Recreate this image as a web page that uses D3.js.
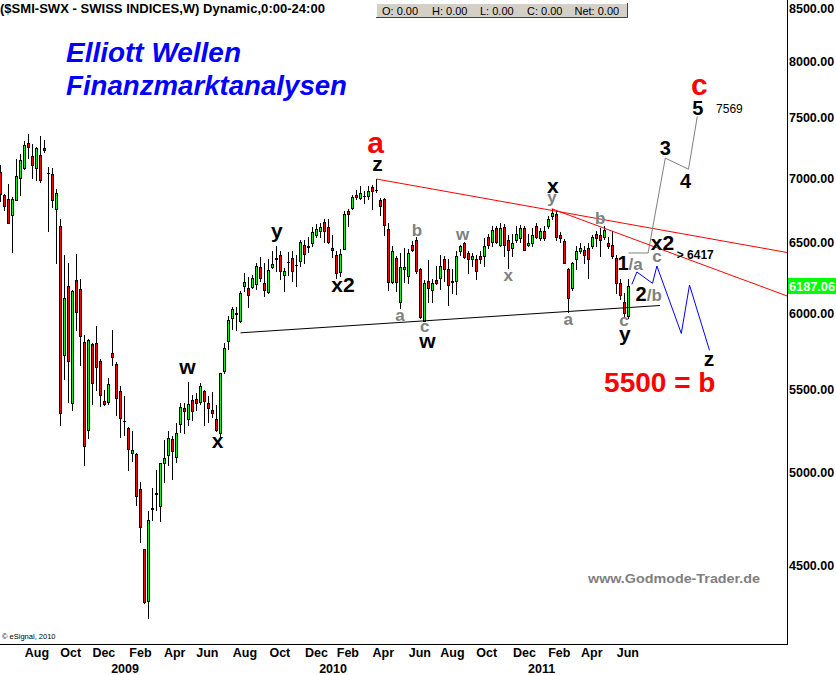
<!DOCTYPE html>
<html><head><meta charset="utf-8">
<script src="https://cdn.jsdelivr.net/npm/d3@7"></script>
<style>
body{margin:0;background:#fff}
svg{display:block}
text{font-family:Arial,"Liberation Sans",sans-serif}
</style>
</head><body>
<svg id="c" width="836" height="675"></svg>
<script>
// ---------------- DATA ----------------
const firstWeekEnd = "2008-06-27";   // date of the first weekly bar
const opens = [7051,6862,6838,6713,6825,6998,7079,7284,7180,7079,7188,7244,7044,7030,6759,6628,5722,6191,5414,6234,
6169,5807,5249,5789,5796,5682,5428,5422,5735,5664,5492,5306,5259,5114,5106,4907,4582,4321,4800,4881,
4812,5057,5102,5194,5092,5288,5382,5319,5434,5441,5418,5488,5412,5371,5318,5230,5616,5811,5965,5993,
5943,6188,6177,6184,6200,6327,6212,6145,6324,6386,6409,6264,6359,6391,6338,6371,6484,6471,6498,6559,
6587,6659,6621,6462,6414,6288,6457,6741,6762,6869,6844,6856,6856,6928,6908,6823,6831,6606,6217,6391,
6074,6307,6259,6486,6523,6312,5949,6224,6159,6229,6248,6379,6307,6224,6224,6438,6498,6426,6379,6379,
6402,6402,6546,6510,6613,6486,6621,6523,6462,6523,6534,6613,6486,6498,6625,6536,6587,6625,6703,6721,
6562,6518,6312,6177,6379,6438,6450,6462,6474,6570,6562,6546,6498,6486,6391,6212,6074,5979];
const highs = [7106,6877,6952,6849,7156,7194,7303,7358,7281,7254,7345,7311,7088,7079,6915,6677,6414,6355,6160,6421,
6241,5849,5822,5801,5912,5691,5494,5570,5888,5673,5520,5459,5269,5245,5112,4949,4585,4784,4912,5014,
5056,5190,5245,5214,5292,5416,5416,5548,5465,5475,5537,5494,5455,5484,5400,5605,5801,5980,6045,6041,
6152,6279,6255,6264,6350,6398,6350,6384,6443,6479,6438,6319,6431,6438,6414,6523,6523,6548,6618,6639,
6652,6677,6682,6556,6438,6457,6741,6754,6862,6902,6938,6895,6933,6946,6992,6844,6844,6652,6479,6402,
6426,6462,6457,6518,6541,6319,6229,6374,6236,6331,6414,6402,6379,6307,6438,6486,6510,6438,6429,6414,
6440,6534,6570,6625,6625,6652,6639,6562,6570,6625,6631,6625,6570,6613,6652,6613,6625,6700,6759,6741,
6580,6530,6319,6362,6480,6498,6480,6498,6562,6587,6613,6625,6546,6587,6414,6236,6141,6240];
const lows = [6815,6746,6646,6431,6823,6869,7075,7161,7002,6985,6967,7215,6592,6772,6352,5278,5566,5419,5371,5888,
5653,5043,5204,5406,5494,5396,5405,5406,5653,5341,5210,5220,5014,5069,4820,4619,4310,4236,4735,4793,
4730,4949,5043,4962,5063,5239,5233,5278,5312,5372,5406,5278,5298,5328,5243,5214,5603,5757,5895,5884,
5940,6152,6041,6177,6169,6224,6116,6141,6319,6295,6236,6152,6264,6224,6188,6331,6355,6434,6479,6548,
6548,6510,6498,6398,6248,6259,6452,6625,6754,6838,6836,6805,6831,6759,6887,6708,6562,6160,6212,6152,
6034,6217,6212,6443,6284,5965,5943,6074,6074,6200,6164,6224,6057,6141,6134,6414,6391,6284,6331,6241,
6350,6331,6462,6474,6498,6474,6402,6319,6402,6510,6510,6445,6474,6474,6534,6523,6523,6613,6677,6523,
6510,6350,6010,6160,6307,6426,6355,6248,6462,6474,6402,6530,6462,6391,6141,6100,5976,5965];
const closes = [6875,6779,6649,6838,7016,7147,7269,7252,7101,7244,6985,7224,7040,6829,6882,5355,6105,5680,6155,6009,
5844,5155,5818,5537,5643,5463,5410,5531,5709,5443,5322,5302,5137,5134,4867,4702,4314,4735,4797,4884,
5053,5082,5200,5125,5234,5392,5363,5410,5363,5416,5520,5429,5384,5351,5249,5601,5768,5953,6027,5997,
6141,6219,6124,6243,6331,6243,6159,6300,6348,6383,6295,6295,6362,6295,6340,6508,6419,6474,6583,6606,
6621,6587,6505,6445,6279,6419,6715,6715,6852,6849,6882,6859,6895,6895,6905,6779,6631,6217,6438,6217,
6327,6327,6426,6450,6295,5976,6212,6177,6207,6212,6331,6307,6195,6220,6407,6474,6395,6379,6402,6295,
6380,6474,6486,6600,6510,6613,6486,6450,6498,6570,6613,6450,6498,6562,6548,6587,6536,6677,6723,6543,
6536,6355,6105,6355,6438,6462,6414,6379,6546,6534,6523,6600,6474,6402,6212,6127,6002,6187.06];

const priceTicks = [4500,5000,5500,6000,6500,7000,7500,8000,8500];
const monthTicks = [["Aug","2008-08-29"],["Oct","2008-10-27"],["Dec","2008-12-24"],["Feb","2009-02-26"],
 ["Apr","2009-04-27"],["Jun","2009-06-23"],["Aug","2009-08-28"],["Oct","2009-10-28"],["Dec","2009-12-31"],
 ["Feb","2010-02-24"],["Apr","2010-04-27"],["Jun","2010-06-30"],["Aug","2010-08-26"],["Oct","2010-10-25"],
 ["Dec","2010-12-30"],["Feb","2011-03-01"],["Apr","2011-04-27"],["Jun","2011-06-29"]];
const yearTicks = [["2009","2009-01-31"],["2010","2010-01-30"],["2011","2011-01-30"]];

// trend lines / projections: [week index, value]
const redUpper = [[94,6992],[196.75,6429]];
const redLower = [[137.8,6759],[196.75,6117]];
const baseLine = [[60,5866],[164.9,6052]];
const grayPath = [[157,6426],[161.9,6426],[166.2,7161],[172,7071],[174.2,7510]];
const bluePath = [[157.85,6200],[159.1,6288],[163,6207],[164.1,6331],[170.2,5862],[172.25,6195],[177.25,5750]];

// wave labels: [text, week index, value, size, colour, anchor, weight]
const waveLabels = [
 ["a",93.8,7202,30,"#ff0000","middle","bold"],
 ["z",94.25,7060,21,"#000","middle","bold"],
 ["y",69.1,6539,21,"#000","middle","bold"],
 ["x2",85.6,6145,21,"#000","middle","bold"],
 ["w",46.75,5599,21,"#000","middle","bold"],
 ["x",54.25,5141,21,"#000","middle","bold"],
 ["b",104.1,6554,17,"#808080","middle","bold"],
 ["a",99.9,5949,17,"#808080","middle","bold"],
 ["c",106.05,5870,17,"#808080","middle","bold"],
 ["w",106.75,5762,21,"#000","middle","bold"],
 ["w",115.55,6523,17,"#808080","middle","bold"],
 ["x",126.95,6224,17,"#808080","middle","bold"],
 ["x",138.1,6885,21,"#000","middle","bold"],
 ["y",137.9,6800,17,"#808080","middle","bold"],
 ["b",149.95,6639,17,"#808080","middle","bold"],
 ["a",141.95,5921,17,"#808080","middle","bold"],
 ["c",155.9,5912,17,"#808080","middle","bold"],
 ["y",156.1,5814,21,"#000","middle","bold"],
 ["1",157,6302,20,"#000","end","bold"],
 ["/a",157,6302,17,"#808080","start","bold"],
 ["2",161.55,6081,20,"#000","end","bold"],
 ["/b",161.55,6081,17,"#808080","start","bold"],
 ["c",164.1,6360,17,"#808080","middle","bold"],
 ["x2",165.5,6446,21,"#000","middle","bold"],
 ["> 6417",169.05,6379,12,"#000","start","bold"],
 ["3",166.2,7188,20,"#000","middle","bold"],
 ["4",171.25,6921,20,"#000","middle","bold"],
 ["5",174.3,7526,20,"#000","middle","bold"],
 ["7569",178.9,7541,12,"#000","start","normal"],
 ["c",174.7,7693,30,"#ff0000","middle","bold"],
 ["z",177.1,5647,21,"#000","middle","bold"],
 ["5500 = b",150.9,5484,28,"#ff0000","start","bold"]
];

// ---------------- CHART ----------------
const svg = d3.select("#c");
const plotR = 787, plotB = 644;
const t0 = d3.utcParse("%Y-%m-%d")(firstWeekEnd);
const wk = k => new Date(+t0 + k*7*864e5);
const parse = d3.utcParse("%Y-%m-%d");
const x = d3.scaleUtc().domain([wk(0), wk(196.75)]).range([0.5, 787.5]);
const y = d3.scaleLog().domain([4500,8500]).range([565,8]);
const X = k => x(wk(k));

svg.append("rect").attr("width",836).attr("height",675).attr("fill","#fff");

svg.append("defs").append("clipPath").attr("id","plot")
  .append("rect").attr("x",0).attr("y",0).attr("width",plotR).attr("height",plotB);

// header
svg.append("text").attr("x",0).attr("y",13).attr("font-size",12.5).attr("font-weight","bold")
  .attr("textLength",325).attr("lengthAdjust","spacingAndGlyphs")
  .text("($SMI-SWX - SWISS INDICES,W) Dynamic,0:00-24:00");

const box = svg.append("g");
box.append("rect").attr("x",376).attr("y",3).attr("width",252).attr("height",15).attr("fill","#d4d0c8");
box.append("path").attr("d","M376.5,18V3.5H628").attr("stroke","#fff").attr("fill","none");
box.append("path").attr("d","M376,17.5H627.5V3").attr("stroke","#404040").attr("fill","none");
[["O: 0.00",382],["H: 0.00",432],["L: 0.00",480],["C: 0.00",527],["Net: 0.00",574.5]].forEach(([t,xx])=>{
  box.append("text").attr("x",xx).attr("y",15).attr("font-size",11).text(t);
});

svg.append("text").attr("x",66).attr("y",62).attr("font-size",27).attr("font-weight","bold")
  .attr("font-style","italic").attr("fill","#0000ff")
  .attr("textLength",175).attr("lengthAdjust","spacingAndGlyphs").text("Elliott Wellen");
svg.append("text").attr("x",66).attr("y",94.5).attr("font-size",27).attr("font-weight","bold")
  .attr("font-style","italic").attr("fill","#0000ff")
  .attr("textLength",281).attr("lengthAdjust","spacingAndGlyphs").text("Finanzmarktanalysen");

svg.append("text").attr("x",588).attr("y",583).attr("font-size",12).attr("font-weight","bold")
  .attr("fill","#808080").attr("textLength",172).attr("lengthAdjust","spacingAndGlyphs")
  .text("www.Godmode-Trader.de");
svg.append("text").attr("x",2).attr("y",639).attr("font-size",7.5).text("\u00a9 eSignal, 2010");

// candles
const plot = svg.append("g").attr("clip-path","url(#plot)").attr("shape-rendering","crispEdges");
const idx = d3.range(closes.length);
const cx = k => Math.floor(X(k));
plot.selectAll("line.wick").data(idx).join("line").attr("class","wick")
  .attr("x1",k=>cx(k)+0.5).attr("x2",k=>cx(k)+0.5)
  .attr("y1",k=>Math.round(y(highs[k]))).attr("y2",k=>Math.round(y(lows[k]))+1)
  .attr("stroke","#000");
const bodyTop = k => Math.round(y(Math.max(opens[k],closes[k])));
const bodyBot = k => Math.round(y(Math.min(opens[k],closes[k])));
plot.selectAll("rect.body").data(idx).join("rect").attr("class","body")
  .attr("x",k=>cx(k)-1).attr("width",3)
  .attr("y",k=>bodyTop(k)).attr("height",k=>Math.max(1,bodyBot(k)-bodyTop(k)+1))
  .attr("fill","#000");
plot.selectAll("rect.fill").data(idx.filter(k=>bodyBot(k)-bodyTop(k)>=2)).join("rect").attr("class","fill")
  .attr("x",k=>cx(k)).attr("width",1)
  .attr("y",k=>bodyTop(k)+1).attr("height",k=>bodyBot(k)-bodyTop(k)-1)
  .attr("fill",k=>closes[k]>=opens[k]?"#00ff00":"#ff0000");

// lines
const lineGen = d3.line().x(d=>X(d[0])).y(d=>y(d[1]));
const lines = svg.append("g").attr("clip-path","url(#plot)").attr("fill","none");
lines.append("path").attr("d",lineGen(redUpper)).attr("stroke","#ff0000");
lines.append("path").attr("d",lineGen(redLower)).attr("stroke","#ff0000");
lines.append("path").attr("d",lineGen(baseLine)).attr("stroke","#000");
lines.append("path").attr("d",lineGen(grayPath)).attr("stroke","#808080");
lines.append("path").attr("d",lineGen(bluePath)).attr("stroke","#0000ff");

// labels
svg.append("g").selectAll("text").data(waveLabels).join("text")
  .attr("x",d=>X(d[1])).attr("y",d=>y(d[2]))
  .attr("font-size",d=>d[3]).attr("fill",d=>d[4]).attr("text-anchor",d=>d[5]).attr("font-weight",d=>d[6])
  .text(d=>d[0]);

// axes frame
svg.append("line").attr("x1",plotR+0.5).attr("x2",plotR+0.5).attr("y1",0).attr("y2",plotB+1)
  .attr("stroke","#000").attr("shape-rendering","crispEdges");
svg.append("line").attr("x1",0).attr("x2",plotR+1).attr("y1",plotB+0.5).attr("y2",plotB+0.5)
  .attr("stroke","#000").attr("shape-rendering","crispEdges");

const yAxis = svg.append("g").attr("transform",`translate(${plotR},0)`)
  .call(d3.axisRight(y).tickValues(priceTicks).tickSize(0).tickPadding(2).tickFormat(d3.format(".2f")));
yAxis.select(".domain").remove();
yAxis.selectAll("text").attr("font-size",12.5).attr("font-weight","bold").attr("font-family","Arial, Liberation Sans, sans-serif").attr("fill","#000");

const xAxis = svg.append("g").attr("transform",`translate(0,${plotB})`)
  .call(d3.axisBottom(x).tickValues(monthTicks.map(d=>parse(d[1]))).tickSize(0).tickPadding(4)
    .tickFormat((d,i)=>monthTicks[i][0]));
xAxis.select(".domain").remove();
xAxis.selectAll("text").attr("font-size",12.5).attr("font-weight","bold").attr("font-family","Arial, Liberation Sans, sans-serif").attr("fill","#000");

svg.append("g").selectAll("text").data(yearTicks).join("text")
  .attr("x",d=>x(parse(d[1]))).attr("y",673).attr("text-anchor","middle")
  .attr("font-size",12.5).attr("font-weight","bold").text(d=>d[0]);

// last price marker
const last = closes[closes.length-1];
svg.append("rect").attr("x",788).attr("y",Math.round(y(last))-8).attr("width",48).attr("height",16).attr("fill","#00ff00");
svg.append("text").attr("x",789).attr("y",Math.round(y(last))+4.5).attr("font-size",12.5).attr("font-weight","bold")
  .attr("fill","#fff").attr("textLength",46).attr("lengthAdjust","spacingAndGlyphs").text(d3.format(".2f")(last));
</script>
</body></html>
